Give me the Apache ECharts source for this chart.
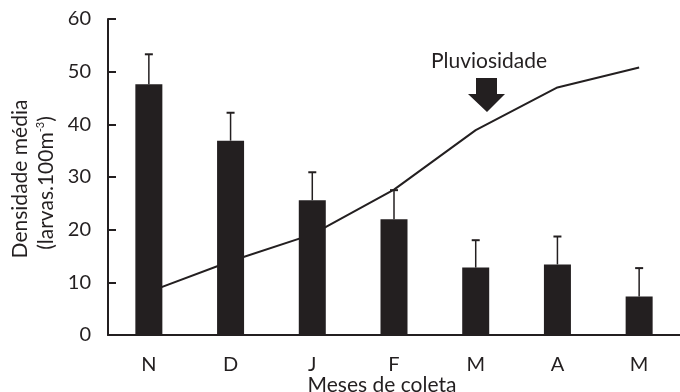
<!DOCTYPE html>
<html>
<head>
<meta charset="utf-8">
<script src="https://cdn.jsdelivr.net/npm/echarts@6/dist/echarts.min.js"></script>
<style>
  html, body { margin: 0; padding: 0; background: #ffffff; }
  #chart { width: 680px; height: 392px; }
</style>
</head>
<body>
<div id="chart"></div>
<script>
// Collection months (Nov to May)
const months = ['N', 'D', 'J', 'F', 'M', 'A', 'M'];
// Mean larval density (larvae per 100 m3)
const density = [47.6, 36.9, 25.6, 22.0, 12.8, 13.4, 7.3];
// Upper end of each error bar
const densityUpper = [53.3, 42.2, 30.9, 27.5, 18.0, 18.7, 12.7];
// Rainfall curve, drawn on the same scale
const rainfall = [8.2, 14.0, 19.1, 27.6, 38.9, 47.0, 50.8];
// Y axis ticks
const yTicks = [0, 10, 20, 30, 40, 50, 60];

const INK = '#231f20';
const FONT = 'Lato';

const errorData = months.map((m, i) => [i, density[i], densityUpper[i]]);

const chart = echarts.init(document.getElementById('chart'), null, { renderer: 'canvas' });

chart.setOption({
  animation: false,
  backgroundColor: '#ffffff',
  textStyle: { fontFamily: FONT, color: INK },
  grid: { left: 108, right: 0, top: 19, bottom: 57 },
  xAxis: {
    type: 'category',
    data: months,
    boundaryGap: true,
    axisLine: { show: true, lineStyle: { color: INK, width: 2 } },
    axisTick: { show: false },
    axisLabel: { color: INK, fontSize: 20, fontFamily: FONT, margin: 20 }
  },
  yAxis: {
    type: 'value',
    min: yTicks[0],
    max: yTicks[yTicks.length - 1],
    interval: yTicks[1] - yTicks[0],
    splitLine: { show: false },
    axisLine: { show: true, lineStyle: { color: INK, width: 2 } },
    axisTick: { show: true, inside: true, length: 8, lineStyle: { color: INK, width: 2 } },
    axisLabel: { color: INK, fontSize: 20, fontFamily: FONT, margin: 17 }
  },
  series: [
    {
      name: 'Pluviosidade',
      type: 'line',
      data: rainfall,
      z: 1,
      symbol: 'none',
      lineStyle: { color: INK, width: 2 }
    },
    {
      name: 'Densidade',
      type: 'bar',
      data: density,
      z: 2,
      barWidth: 27,
      itemStyle: { color: INK }
    },
    {
      name: 'Erro',
      type: 'custom',
      z: 3,
      data: errorData,
      renderItem: function (params, api) {
        const i = api.value(0);
        const base = api.coord([i, api.value(1)]);
        const top = api.coord([i, api.value(2)]);
        const half = 4;
        return {
          type: 'group',
          children: [
            {
              type: 'line',
              shape: { x1: base[0], y1: base[1], x2: top[0], y2: top[1] },
              style: { stroke: INK, lineWidth: 1.5 }
            },
            {
              type: 'line',
              shape: { x1: top[0] - half, y1: top[1], x2: top[0] + half, y2: top[1] },
              style: { stroke: INK, lineWidth: 2 }
            }
          ]
        };
      }
    }
  ],
  graphic: [
    {
      type: 'text',
      x: 20, y: 179,
      rotation: Math.PI / 2,
      style: {
        text: 'Densidade média',
        fontSize: 21, fontFamily: FONT, fill: INK,
        align: 'center', verticalAlign: 'middle'
      }
    },
    {
      type: 'text',
      x: 46, y: 183,
      rotation: Math.PI / 2,
      style: {
        text: '(larvas.100m{sup|-3})',
        fontSize: 21, fontFamily: FONT, fill: INK,
        align: 'center', verticalAlign: 'middle',
        rich: {
          sup: { fontSize: 11, fontFamily: FONT, fill: INK, verticalAlign: 'top', padding: [0, 0, 12, 0] }
        }
      }
    },
    {
      type: 'text',
      x: 382, y: 385,
      style: {
        text: 'Meses de coleta',
        fontSize: 21, fontFamily: FONT, fill: INK,
        align: 'center', verticalAlign: 'middle'
      }
    },
    {
      type: 'text',
      x: 489, y: 61,
      style: {
        text: 'Pluviosidade',
        fontSize: 21, fontFamily: FONT, fill: INK,
        align: 'center', verticalAlign: 'middle'
      }
    },
    {
      type: 'polygon',
      shape: {
        points: [[476, 78], [497, 78], [497, 94], [505, 94], [487, 112], [468, 94], [476, 94]]
      },
      style: { fill: INK }
    }
  ]
});
</script>
</body>
</html>
